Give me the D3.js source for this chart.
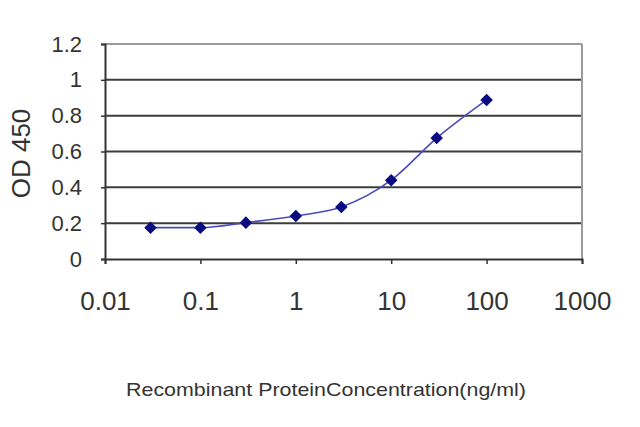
<!DOCTYPE html>
<html><head><meta charset="utf-8">
<script src="https://cdn.jsdelivr.net/npm/d3@7"></script>
<style>html,body{margin:0;padding:0;background:#fff;}svg{display:block;}</style>
</head><body>
<svg id="c" width="640" height="427"></svg>
<script>
const concentrations = [0.03, 0.1, 0.3, 1, 3, 10, 30, 100];
const odValues = [0.175, 0.175, 0.203, 0.24, 0.29, 0.44, 0.675, 0.888];
const xTicks = [0.01, 0.1, 1, 10, 100, 1000];
const xTickLabels = ["0.01", "0.1", "1", "10", "100", "1000"];
const yTicks = [0, 0.2, 0.4, 0.6, 0.8, 1, 1.2];
const yTickLabels = ["0", "0.2", "0.4", "0.6", "0.8", "1", "1.2"];
const yTitle = "OD 450";
const xTitle = "Recombinant ProteinConcentration(ng/ml)";

const svg = d3.select("#c");
const L = 105, R = 582, T = 44, B = 259;
const x = d3.scaleLog().domain([0.01, 1000]).range([L, R]);
const y = d3.scaleLinear().domain([0, 1.2]).range([B, T]);
const font = "'Liberation Sans', Arial, sans-serif";

// gridlines
svg.append("g").selectAll("line").data(yTicks.filter(v => v > 0 && v < 1.2)).join("line")
  .attr("x1", L).attr("x2", R).attr("y1", d => y(d)).attr("y2", d => y(d))
  .attr("stroke", "#3c3c3c").attr("stroke-width", 2);
// top & right border
svg.append("line").attr("x1", L).attr("x2", R).attr("y1", y(1.2)).attr("y2", y(1.2))
  .attr("stroke", "#9a9a9a").attr("stroke-width", 2);
svg.append("line").attr("x1", R).attr("x2", R).attr("y1", T).attr("y2", B)
  .attr("stroke", "#9a9a9a").attr("stroke-width", 2);

// axes
const yAxis = d3.axisLeft(y).tickValues(yTicks).tickFormat((d, i) => yTickLabels[i]).tickSize(4).tickPadding(19);
const gy = svg.append("g").attr("transform", `translate(${L},0)`).call(yAxis);
gy.select(".domain").attr("stroke", "#333").attr("stroke-width", 2);
gy.selectAll(".tick line").attr("stroke", "#333").attr("stroke-width", 1.5);
gy.selectAll("text").attr("font-family", font).attr("font-size", 22).attr("fill", "#333");

const xAxis = d3.axisBottom(x).tickValues(xTicks).tickFormat((d, i) => xTickLabels[i]).tickSize(5).tickPadding(28);
const gx = svg.append("g").attr("transform", `translate(0,${B})`).call(xAxis);
gx.select(".domain").attr("stroke", "#333").attr("stroke-width", 2);
gx.selectAll(".tick line").attr("stroke", "#333").attr("stroke-width", 1.5);
gx.selectAll("text").attr("font-family", font).attr("font-size", 26).attr("fill", "#333");

// line
const pts = concentrations.map((c, i) => [c, odValues[i]]);
svg.append("path").datum(pts)
  .attr("d", d3.line().x(d => x(d[0])).y(d => y(d[1])).curve(d3.curveMonotoneX))
  .attr("fill", "none").attr("stroke", "#4a4ac0").attr("stroke-width", 1.6);
svg.append("g").selectAll("path").data(pts).join("path")
  .attr("transform", d => `translate(${x(d[0])},${y(d[1])})`)
  .attr("d", d3.symbol(d3.symbolDiamond2, 100)())
  .attr("fill", "#0a0a80");

// titles
svg.append("text").attr("transform", `translate(30,${(T + B) / 2 + 2}) rotate(-90)`)
  .attr("text-anchor", "middle").attr("font-family", font).attr("font-size", 26).attr("fill", "#333")
  .text(yTitle);
svg.append("text").attr("x", 326).attr("y", 396).attr("text-anchor", "middle")
  .attr("font-family", font).attr("font-size", 19).attr("fill", "#333")
  .attr("textLength", 400).attr("lengthAdjust", "spacingAndGlyphs")
  .text(xTitle);
</script>
</body></html>
